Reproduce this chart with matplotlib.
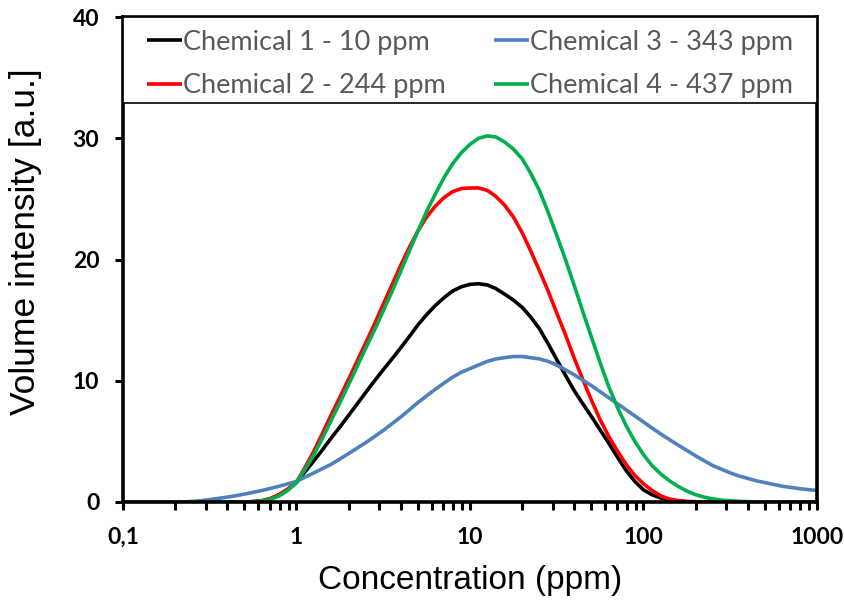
import numpy as np
import matplotlib
matplotlib.use("Agg")
import matplotlib.pyplot as plt
from matplotlib.patches import Rectangle
from matplotlib.ticker import FixedLocator, FixedFormatter, LogLocator, NullFormatter

# ---- data (x in ppm, y in a.u.) ----
conc = [0.1, 0.112, 0.126, 0.141, 0.158, 0.178, 0.2, 0.224, 0.251, 0.282,
        0.316, 0.355, 0.398, 0.447, 0.501, 0.562, 0.631, 0.708, 0.794, 0.891,
        1.0, 1.12, 1.26, 1.41, 1.58, 1.78, 2.0, 2.24, 2.51, 2.82,
        3.16, 3.55, 3.98, 4.47, 5.01, 5.62, 6.31, 7.08, 7.94, 8.91,
        10, 11.2, 12.6, 14.1, 15.8, 17.8, 20, 22.4, 25.1, 28.2,
        31.6, 35.5, 39.8, 44.7, 50.1, 56.2, 63.1, 70.8, 79.4, 89.1,
        100, 112, 126, 141, 158, 178, 200, 224, 251, 282,
        316, 355, 398, 447, 501, 562, 631, 708, 794, 891, 1000]

chem1 = [0, 0, 0, 0, 0, 0, 0, 0, 0, 0,
         0, 0, 0, 0, 0.0, 0.03, 0.1, 0.28, 0.6, 1.05,
         1.6, 2.5, 3.4, 4.3, 5.25, 6.2, 7.15, 8.1, 9.05, 10.0,
         10.9, 11.8, 12.7, 13.65, 14.6, 15.45, 16.2, 16.85, 17.4, 17.75,
         17.95, 18.0, 17.9, 17.6, 17.15, 16.65, 16.05, 15.25, 14.3, 13.05,
         11.75, 10.45, 9.2, 8.1, 7.05, 5.95, 4.85, 3.7, 2.6, 1.7,
         1.0, 0.6, 0.32, 0.16, 0.07, 0.02, 0, 0, 0, 0,
         0, 0, 0, 0, 0, 0, 0, 0, 0, 0, 0]

chem2 = [0, 0, 0, 0, 0, 0, 0, 0, 0, 0,
         0, 0, 0, 0, 0.0, 0.03, 0.1, 0.28, 0.6, 1.05,
         1.65, 2.85, 4.2, 5.65, 7.15, 8.65, 10.15, 11.65, 13.15, 14.7,
         16.3, 17.9, 19.5, 21.0, 22.35, 23.5, 24.4, 25.1, 25.6, 25.85,
         25.9, 25.9, 25.7, 25.2, 24.5, 23.5, 22.2, 20.7, 19.1, 17.4,
         15.6, 13.8, 11.9, 10.1, 8.4, 6.8, 5.4, 4.2, 3.1, 2.2,
         1.5, 0.95, 0.5, 0.25, 0.12, 0.05, 0.02, 0, 0, 0,
         0, 0, 0, 0, 0, 0, 0, 0, 0, 0, 0]

chem3 = [0, 0, 0, 0, 0, 0, 0, 0.01, 0.05, 0.11,
         0.2, 0.3, 0.4, 0.52, 0.65, 0.8, 0.95, 1.12, 1.3, 1.5,
         1.7, 2.05, 2.4, 2.75, 3.1, 3.55, 4.0, 4.45, 4.9, 5.4,
         5.9, 6.45, 7.0, 7.6, 8.2, 8.75, 9.3, 9.8, 10.3, 10.7,
         11.0, 11.3, 11.6, 11.8, 11.9, 12.0, 12.0, 11.9, 11.8, 11.6,
         11.3, 10.9, 10.5, 10.05, 9.6, 9.1, 8.6, 8.1, 7.6, 7.1,
         6.6, 6.1, 5.6, 5.15, 4.7, 4.25, 3.8, 3.4, 3.0, 2.7,
         2.4, 2.15, 1.95, 1.75, 1.6, 1.45, 1.3, 1.2, 1.1, 1.02, 0.95]

chem4 = [0, 0, 0, 0, 0, 0, 0, 0, 0, 0,
         0, 0, 0, 0, 0.0, 0.02, 0.08, 0.22, 0.5, 0.95,
         1.6, 2.7, 3.9, 5.25, 6.7, 8.2, 9.7, 11.2, 12.7, 14.2,
         15.75, 17.35, 19.0, 20.7, 22.35, 23.95, 25.4, 26.75, 27.9, 28.8,
         29.5, 30.0, 30.2, 30.1, 29.7, 29.1, 28.3, 27.1, 25.7, 23.9,
         22.0, 20.0, 17.9, 15.7, 13.6, 11.5, 9.5, 7.8, 6.3, 5.0,
         3.9, 3.0, 2.3, 1.75, 1.3, 0.9, 0.6, 0.4, 0.25, 0.16,
         0.1, 0.06, 0.03, 0.01, 0, 0, 0, 0, 0, np.nan, np.nan]

series_labels = ["Chemical 1 - 10 ppm", "Chemical 2 - 244 ppm",
                 "Chemical 3 - 343 ppm", "Chemical 4 - 437 ppm"]
series_colors = ["#000000", "#FF0000", "#4F81BD", "#00B050"]

x_ticks = [0.1, 1, 10, 100, 1000]
x_ticklabels = ["0,1", "1", "10", "100", "1000"]
y_ticks = [0, 10, 20, 30, 40]

# ---- figure ----
W, H = 845, 605
fig = plt.figure(figsize=(W / 100, H / 100), dpi=100)
ax = fig.add_axes([123 / W, 1 - 502 / H, (817 - 123) / W, (502 - 17) / H])

lines = []
for ys, lab, col in zip([chem1, chem2, chem3, chem4], series_labels, series_colors):
    ln, = ax.plot(conc, ys, color=col, lw=2.6, label=lab,
                  solid_joinstyle="round", solid_capstyle="butt")
    lines.append(ln)

ax.set_xscale("log")
ax.set_xlim(0.1, 1000)
ax.set_ylim(0, 40)

ax.xaxis.set_major_locator(FixedLocator(x_ticks))
ax.xaxis.set_major_formatter(FixedFormatter(x_ticklabels))
ax.xaxis.set_minor_locator(LogLocator(base=10, subs=np.arange(2, 10)))
ax.xaxis.set_minor_formatter(NullFormatter())
ax.yaxis.set_major_locator(FixedLocator(y_ticks))

ax.tick_params(axis="x", which="major", direction="out", length=6, width=2.2,
               color="black", pad=12)
ax.tick_params(axis="y", which="major", direction="out", length=6, width=2.2,
               color="black", pad=11)
ax.tick_params(axis="x", which="minor", direction="out", length=5.5, width=2.2,
               color="black")
for lab in ax.get_xticklabels() + ax.get_yticklabels():
    lab.set_fontfamily(["Lato", "DejaVu Sans"])
    lab.set_fontweight("bold")
    lab.set_fontsize(16.5)

for sp in ax.spines.values():
    sp.set_linewidth(2.6)
    sp.set_color("black")

ax.set_xlabel("Concentration (ppm)",
              fontdict=dict(family=["Liberation Sans", "DejaVu Sans"], size=24))
ax.set_ylabel("Volume intensity [a.u.]",
              fontdict=dict(family=["Liberation Sans", "DejaVu Sans"], size=25.5))
ax.xaxis.set_label_coords(0.5, -0.13)
ax.yaxis.set_label_coords(-0.117, 0.536)

# legend strip across the top of the plot
leg_bottom = (502 - 103) / 485
strip = Rectangle((0, leg_bottom), 1, 1 - leg_bottom, transform=ax.transAxes,
                  facecolor="white", edgecolor="black", lw=1.2, zorder=3)
ax.add_patch(strip)
padx = 24 / 694
shift = 4 / 485
leg = ax.legend(handles=lines, ncol=2, loc="center",
                bbox_to_anchor=(padx, leg_bottom - shift, 1 - 2 * padx, 1 - leg_bottom),
                mode="expand", borderaxespad=0, borderpad=0, frameon=False,
                handlelength=1.3, handletextpad=0.03,
                labelspacing=0.68, columnspacing=1.0,
                prop=dict(family=["Lato", "DejaVu Sans"], size=19.5))
leg.set_zorder(4)
for t in leg.get_texts():
    t.set_color("#595959")
for h in leg.legend_handles:
    h.set_linewidth(2.6)

fig.savefig("out.png", dpi=100)
